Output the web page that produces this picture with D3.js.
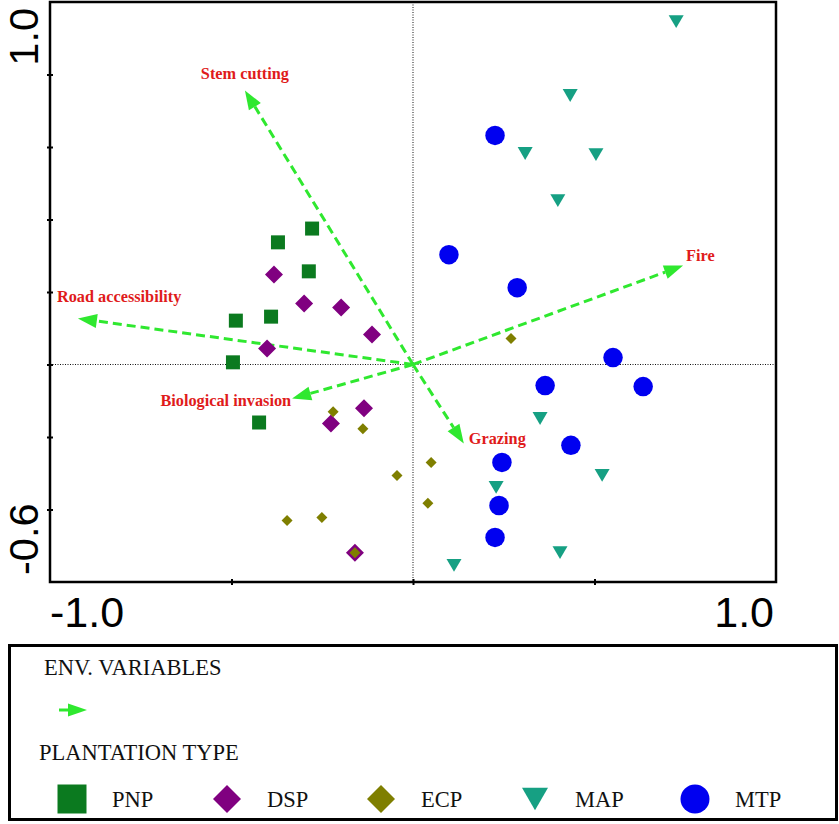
<!DOCTYPE html>
<html>
<head>
<meta charset="utf-8">
<script src="https://cdn.jsdelivr.net/npm/d3@7"></script>
<style>
  body { margin: 0; background: #fff; }
  svg { display: block; }
  .num { font-family: "Liberation Sans", Arial, sans-serif; font-size: 43px; }
  .ynum { font-size: 41.5px; }
  .lbl { font-family: "Liberation Serif", "Times New Roman", serif; font-weight: bold; font-size: 16.3px; fill: #e01b1b; }
  .leg { font-family: "Liberation Serif", "Times New Roman", serif; font-size: 22.5px; fill: #111; }
</style>
</head>
<body>
<svg id="chart"></svg>
<script>
// sample scores (axis 1, axis 2)
const pnp = [[-0.278, 0.375], [-0.372, 0.337], [-0.287, 0.257], [-0.488, 0.121],
  [-0.391, 0.132], [-0.496, 0.006], [-0.424, -0.160]];
const dsp = [[-0.383, 0.248], [-0.300, 0.168], [-0.198, 0.157], [-0.113, 0.083],
  [-0.402, 0.044], [-0.135, -0.121], [-0.226, -0.163], [-0.160, -0.519]];
const ecp = [[-0.220, -0.130], [-0.138, -0.177], [-0.044, -0.306], [-0.347, -0.430],
  [-0.251, -0.422], [-0.160, -0.519], [0.270, 0.072], [0.050, -0.270], [0.041, -0.383]];
const map = [[0.725, 0.946], [0.433, 0.742], [0.309, 0.582], [0.504, 0.579], [0.399, 0.452],
  [0.350, -0.149], [0.521, -0.306], [0.229, -0.339], [0.405, -0.519], [0.113, -0.554]];
const mtp = [[0.226, 0.632], [0.099, 0.303], [0.287, 0.212], [0.551, 0.019], [0.364, -0.058],
  [0.634, -0.061], [0.435, -0.223], [0.245, -0.270], [0.237, -0.389], [0.226, -0.477]];

// environmental variable arrows (tip coordinates)
const envNames = ["Stem cutting", "Road accessibility", "Biological invasion", "Fire", "Grazing"];
const envX = [-0.463, -0.923, -0.333, 0.744, 0.140];
const envY = [0.756, 0.127, -0.094, 0.273, -0.218];

const xDomain = [-1.0, 1.0];
const yDomain = [-0.6, 1.0];
const xTicks = [-0.5, 0, 0.5];
const yTicks = [-0.4, -0.2, 0, 0.2, 0.4, 0.6, 0.8];

const groups = [
  { name: "PNP", data: pnp, shape: "square", color: "#0b7a1f", size: 14, legSize: 29 },
  { name: "DSP", data: dsp, shape: "diamond", color: "#800080", size: 18, legSize: 28 },
  { name: "ECP", data: ecp, shape: "diamond", color: "#7f7f00", size: 11, legSize: 28 },
  { name: "MAP", data: map, shape: "triangle", color: "#16a083", size: 15, legSize: 26 },
  { name: "MTP", data: mtp, shape: "circle", color: "#0000f0", size: 19.5, legSize: 29 }
];

// label offsets from arrow tips, in pixels
const labelPos = {
  "Stem cutting": { dx: 0, dy: -11, anchor: "middle" },
  "Road accessibility": { dx: -21, dy: -16, anchor: "start" },
  "Biological invasion": { dx: -1, dy: 7, anchor: "end" },
  "Fire": { dx: 3, dy: -5, anchor: "start" },
  "Grazing": { dx: 5, dy: 0, anchor: "start" }
};

const W = 839, H = 824;
const plot = { left: 50, right: 776, top: 2, bottom: 582 };
const green = "#2fe82f";

const svg = d3.select("#chart").attr("width", W).attr("height", H);

const x = d3.scaleLinear().domain(xDomain).range([plot.left, plot.right]);
const y = d3.scaleLinear().domain(yDomain).range([plot.bottom, plot.top]);

const shapePath = (shape, s) => {
  const h = s / 2;
  if (shape === "square") return `M${-h},${-h}H${h}V${h}H${-h}Z`;
  if (shape === "diamond") return `M0,${-h}L${h},0L0,${h}L${-h},0Z`;
  if (shape === "triangle") { const t = s * 0.43; return `M${-h},${-t}H${h}L0,${t}Z`; }
  return d3.arc()({ innerRadius: 0, outerRadius: h, startAngle: 0, endAngle: 2 * Math.PI });
};

// zero lines
svg.append("line")
  .attr("x1", x(0)).attr("x2", x(0)).attr("y1", plot.top).attr("y2", plot.bottom)
  .attr("stroke", "#111").attr("stroke-width", 1).attr("stroke-dasharray", "1,1.5");
svg.append("line")
  .attr("x1", plot.left).attr("x2", plot.right).attr("y1", y(0)).attr("y2", y(0))
  .attr("stroke", "#111").attr("stroke-width", 1).attr("stroke-dasharray", "1,1.5");

// frame
svg.append("rect")
  .attr("x", plot.left).attr("y", plot.top)
  .attr("width", plot.right - plot.left).attr("height", plot.bottom - plot.top)
  .attr("fill", "none").attr("stroke", "#000").attr("stroke-width", 2.5);

const xAxis = svg.append("g")
  .attr("transform", `translate(0,${plot.bottom})`)
  .call(d3.axisBottom(x).tickValues(xTicks).tickFormat("").tickSize(3));
const yAxis = svg.append("g")
  .attr("transform", `translate(${plot.left},0)`)
  .call(d3.axisLeft(y).tickValues(yTicks).tickFormat("").tickSize(3));
[xAxis, yAxis].forEach(a => {
  a.select(".domain").remove();
  a.selectAll(".tick line").attr("stroke", "#000").attr("stroke-width", 2);
});
xAxis.selectAll(".tick line").attr("y1", -3);
yAxis.selectAll(".tick line").attr("x1", 3);

// axis end labels
svg.append("text").attr("class", "num").attr("x", x(xDomain[0])).attr("y", 627)
  .attr("text-anchor", "start").text(xDomain[0].toFixed(1));
svg.append("text").attr("class", "num").attr("x", x(xDomain[1]) - 2).attr("y", 627)
  .attr("text-anchor", "end").text(xDomain[1].toFixed(1));
svg.append("text").attr("class", "num ynum")
  .attr("transform", `translate(38,${y(yDomain[0]) - 7}) rotate(-90)`)
  .attr("text-anchor", "start").text(yDomain[0].toFixed(1));
svg.append("text").attr("class", "num ynum")
  .attr("transform", `translate(38,${y(yDomain[1]) + 6}) rotate(-90)`)
  .attr("text-anchor", "end").text(yDomain[1].toFixed(1));

// arrows
const arrowHead = (g, x0, y0, x1, y1, len, wid) => {
  const a = Math.atan2(y1 - y0, x1 - x0);
  const bx = x1 - len * Math.cos(a), by = y1 - len * Math.sin(a);
  const px = Math.sin(a) * wid / 2, py = -Math.cos(a) * wid / 2;
  g.append("path")
    .attr("d", `M${x1},${y1}L${bx + px},${by + py}L${bx - px},${by - py}Z`)
    .attr("fill", green);
  return [bx, by];
};

const env = envNames.map((n, i) => ({ name: n, x: envX[i], y: envY[i] }));
const arrows = svg.append("g");
env.forEach(d => {
  const x0 = x(0), y0 = y(0), x1 = x(d.x), y1 = y(d.y);
  const [bx, by] = arrowHead(arrows, x0, y0, x1, y1, 19, 14);
  arrows.append("line")
    .attr("x1", x0).attr("y1", y0).attr("x2", bx).attr("y2", by)
    .attr("stroke", green).attr("stroke-width", 3).attr("stroke-dasharray", "9,5");
  const p = labelPos[d.name];
  svg.append("text").attr("class", "lbl")
    .attr("x", x1 + p.dx).attr("y", y1 + p.dy)
    .attr("text-anchor", p.anchor).text(d.name);
});

// sample points
groups.forEach(gr => {
  svg.append("g").selectAll("path").data(gr.data).join("path")
    .attr("transform", d => `translate(${x(d[0])},${y(d[1])})`)
    .attr("d", shapePath(gr.shape, gr.size))
    .attr("fill", gr.color);
});

// legend
svg.append("rect").attr("x", 9.5).attr("y", 645.5).attr("width", 827).attr("height", 174)
  .attr("fill", "none").attr("stroke", "#000").attr("stroke-width", 3);
svg.append("text").attr("class", "leg").attr("x", 44).attr("y", 675).text("ENV. VARIABLES");
const legArrow = svg.append("g");
const [lbx, lby] = arrowHead(legArrow, 59, 710, 87, 710, 19, 13);
legArrow.append("line").attr("x1", 59).attr("y1", 710).attr("x2", lbx).attr("y2", lby)
  .attr("stroke", green).attr("stroke-width", 3);
svg.append("text").attr("class", "leg").attr("x", 39).attr("y", 760).text("PLANTATION TYPE");

const legX = [72, 227, 381, 535, 695];
groups.forEach((gr, i) => {
  svg.append("path")
    .attr("transform", `translate(${legX[i]},799)`)
    .attr("d", shapePath(gr.shape, gr.legSize))
    .attr("fill", gr.color);
  svg.append("text").attr("class", "leg").attr("x", legX[i] + 40).attr("y", 807).text(gr.name);
});
</script>
</body>
</html>
